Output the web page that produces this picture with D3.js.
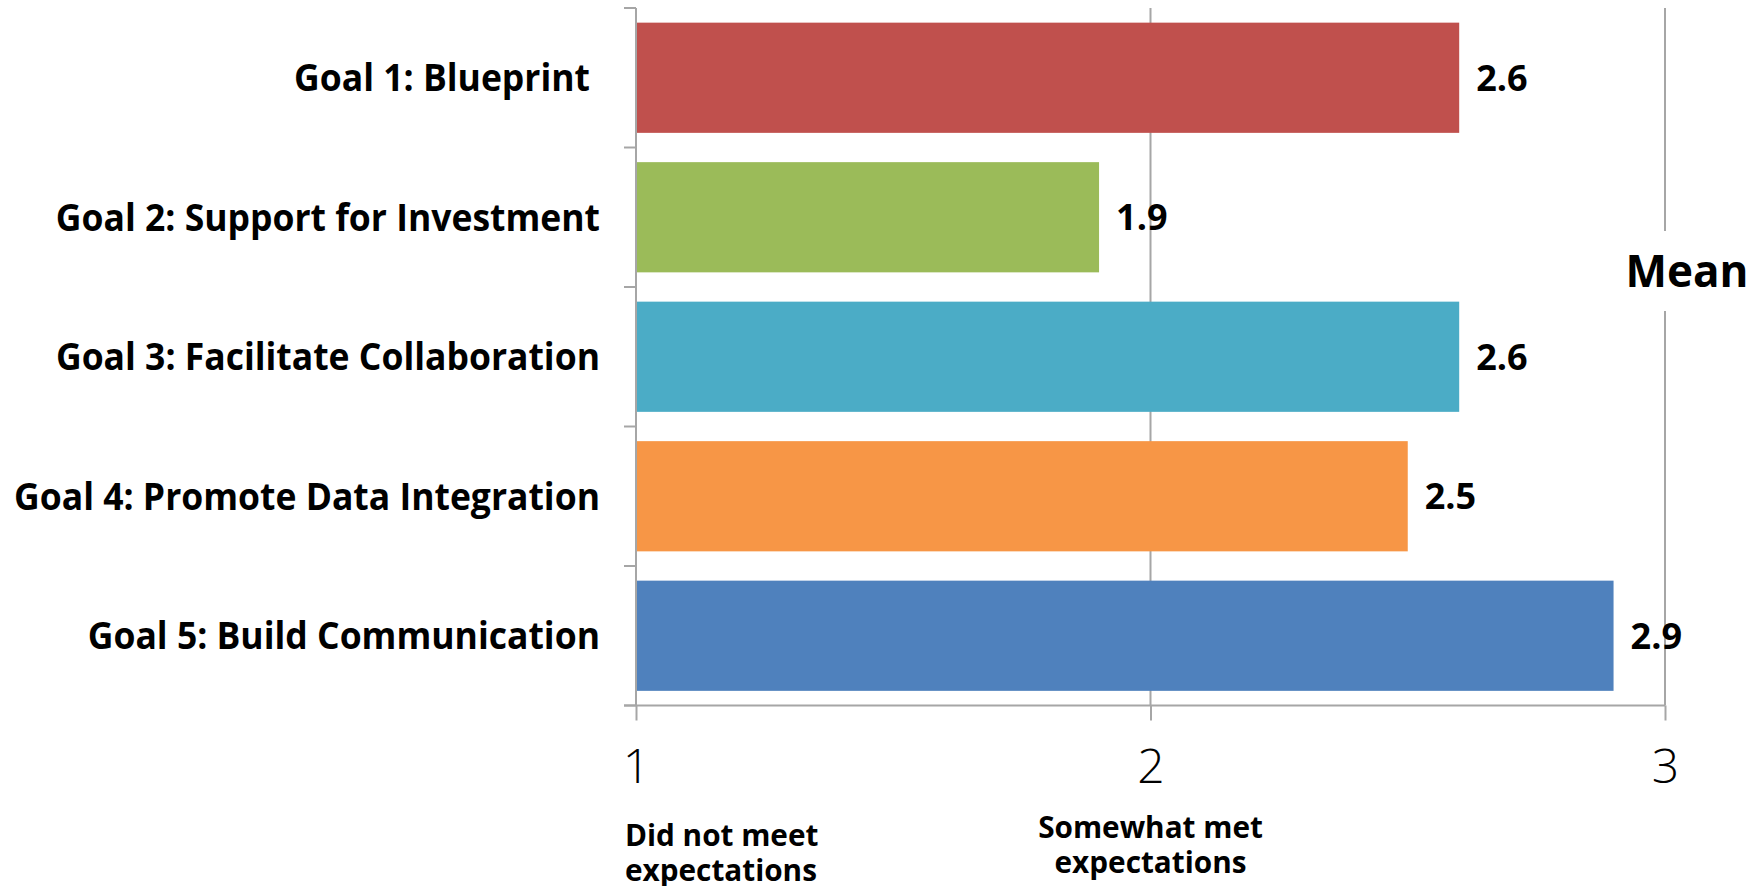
<!DOCTYPE html>
<html>
<head>
<meta charset="utf-8">
<script src="https://cdn.jsdelivr.net/npm/d3@7"></script>
<style>
  body { margin: 0; background: #fff; }
  svg { display: block; font-family: 'Open Sans', 'Noto Sans', sans-serif; }
</style>
</head>
<body>
<svg id="chart" width="1764" height="886"></svg>
<script>
const goals = [
  'Goal 1: Blueprint',
  'Goal 2: Support for Investment',
  'Goal 3: Facilitate Collaboration',
  'Goal 4: Promote Data Integration',
  'Goal 5: Build Communication'
];
const means = [2.6, 1.9, 2.6, 2.5, 2.9];
const colors = ['#C0504D', '#9BBB59', '#4BACC6', '#F79646', '#4F81BD'];
const xTicks = [1, 2, 3];
const anchorLabels = [
  { at: 1, lines: ['Did not meet', 'expectations'], align: 'start' },
  { at: 2, lines: ['Somewhat met', 'expectations'], align: 'middle' }
];
const axisTitle = 'Mean';

const svg = d3.select('#chart');
const grid = '#A6A6A6';

const x = d3.scaleLinear().domain([1, 3]).range([636, 1665]);
const y = d3.scaleBand().domain(goals).range([8, 705.5])
  .paddingInner(0.21).paddingOuter(0.105);

// gridlines at 2 and 3
svg.append('g')
  .selectAll('line')
  .data(xTicks.slice(1))
  .join('line')
  .attr('x1', d => x(d)).attr('x2', d => x(d))
  .attr('y1', 8).attr('y2', 705.5)
  .attr('stroke', grid).attr('stroke-width', 2);

// bars
svg.append('g')
  .selectAll('rect')
  .data(goals)
  .join('rect')
  .attr('x', x(1))
  .attr('y', d => y(d))
  .attr('width', (d, i) => x(means[i]) - x(1))
  .attr('height', y.bandwidth())
  .attr('fill', (d, i) => colors[i]);

// y axis with band-edge ticks
const yEdges = goals.map(g => y(g) - y.step() * y.paddingInner() / 2);
yEdges[0] = 8;
yEdges.push(705.5);
const yAxis = svg.append('g');
yAxis.append('line')
  .attr('x1', x(1)).attr('x2', x(1)).attr('y1', 8).attr('y2', 705.5)
  .attr('stroke', grid).attr('stroke-width', 2);
yAxis.selectAll('line.tick')
  .data(yEdges)
  .join('line')
  .attr('class', 'tick')
  .attr('x1', x(1) - 12).attr('x2', x(1))
  .attr('y1', d => d).attr('y2', d => d)
  .attr('stroke', grid).attr('stroke-width', 2);

// x axis
const xAxis = svg.append('g').attr('transform', 'translate(0,705.5)')
  .call(d3.axisBottom(x).tickValues(xTicks).tickSize(15).tickFormat(d3.format('d')));
xAxis.select('.domain').attr('stroke', grid).attr('stroke-width', 2)
  .attr('d', `M${x(1) - 12},0H${x(3)}`);
xAxis.selectAll('.tick line').attr('stroke', grid).attr('stroke-width', 2);
xAxis.selectAll('.tick text')
  .attr('y', 77).attr('dy', null)
  .attr('fill', '#000')
  .style('font-family', "'Open Sans', sans-serif")
  .style('font-size', '48px').style('font-weight', 300);

// category labels, condensed horizontally
const labels = svg.append('g')
  .selectAll('text')
  .data(goals)
  .join('text')
  .attr('text-anchor', 'end')
  .attr('y', d => y(d) + y.bandwidth() / 2)
  .attr('dy', '0.36em')
  .style('font-size', '37px').style('font-weight', 700)
  .text(d => d);
const widest = d3.max(labels.nodes(), n => n.getComputedTextLength());
const sx = 586 / widest;
labels.attr('transform', `translate(600,0) scale(${sx},1)`).attr('x', 0);
labels.filter((d, i) => i === 0).attr('x', -10 / sx);

// value labels
svg.append('g')
  .selectAll('text')
  .data(goals)
  .join('text')
  .attr('x', (d, i) => x(means[i]) + 17)
  .attr('y', d => y(d) + y.bandwidth() / 2)
  .attr('dy', '0.36em')
  .style('font-size', '36px').style('font-weight', 700)
  .text((d, i) => d3.format('.1f')(means[i]));

// axis title, blanks the gridline behind it
const mean = svg.append('g').attr('transform', `translate(${x(3) + 22},271)`);
mean.append('rect')
  .attr('x', -50).attr('y', -40).attr('width', 100).attr('height', 80)
  .attr('fill', '#fff');
mean.append('text')
  .attr('text-anchor', 'middle')
  .attr('dy', '0.36em')
  .style('font-size', '44px').style('font-weight', 700)
  .text(axisTitle);

// scale anchor labels under the axis
const anch = svg.append('g')
  .selectAll('text')
  .data(anchorLabels)
  .join('text')
  .attr('text-anchor', d => d.align)
  .attr('transform', d => `translate(${d.align === 'start' ? x(d.at) - 11 : x(d.at)},${d.align === 'start' ? 846 : 838}) scale(${sx},1)`)
  .style('font-size', '31px').style('font-weight', 700);
anch.selectAll('tspan')
  .data(d => d.lines)
  .join('tspan')
  .attr('x', 0)
  .attr('dy', (d, i) => i === 0 ? 0 : '1.13em')
  .text(d => d);
</script>
</body>
</html>
